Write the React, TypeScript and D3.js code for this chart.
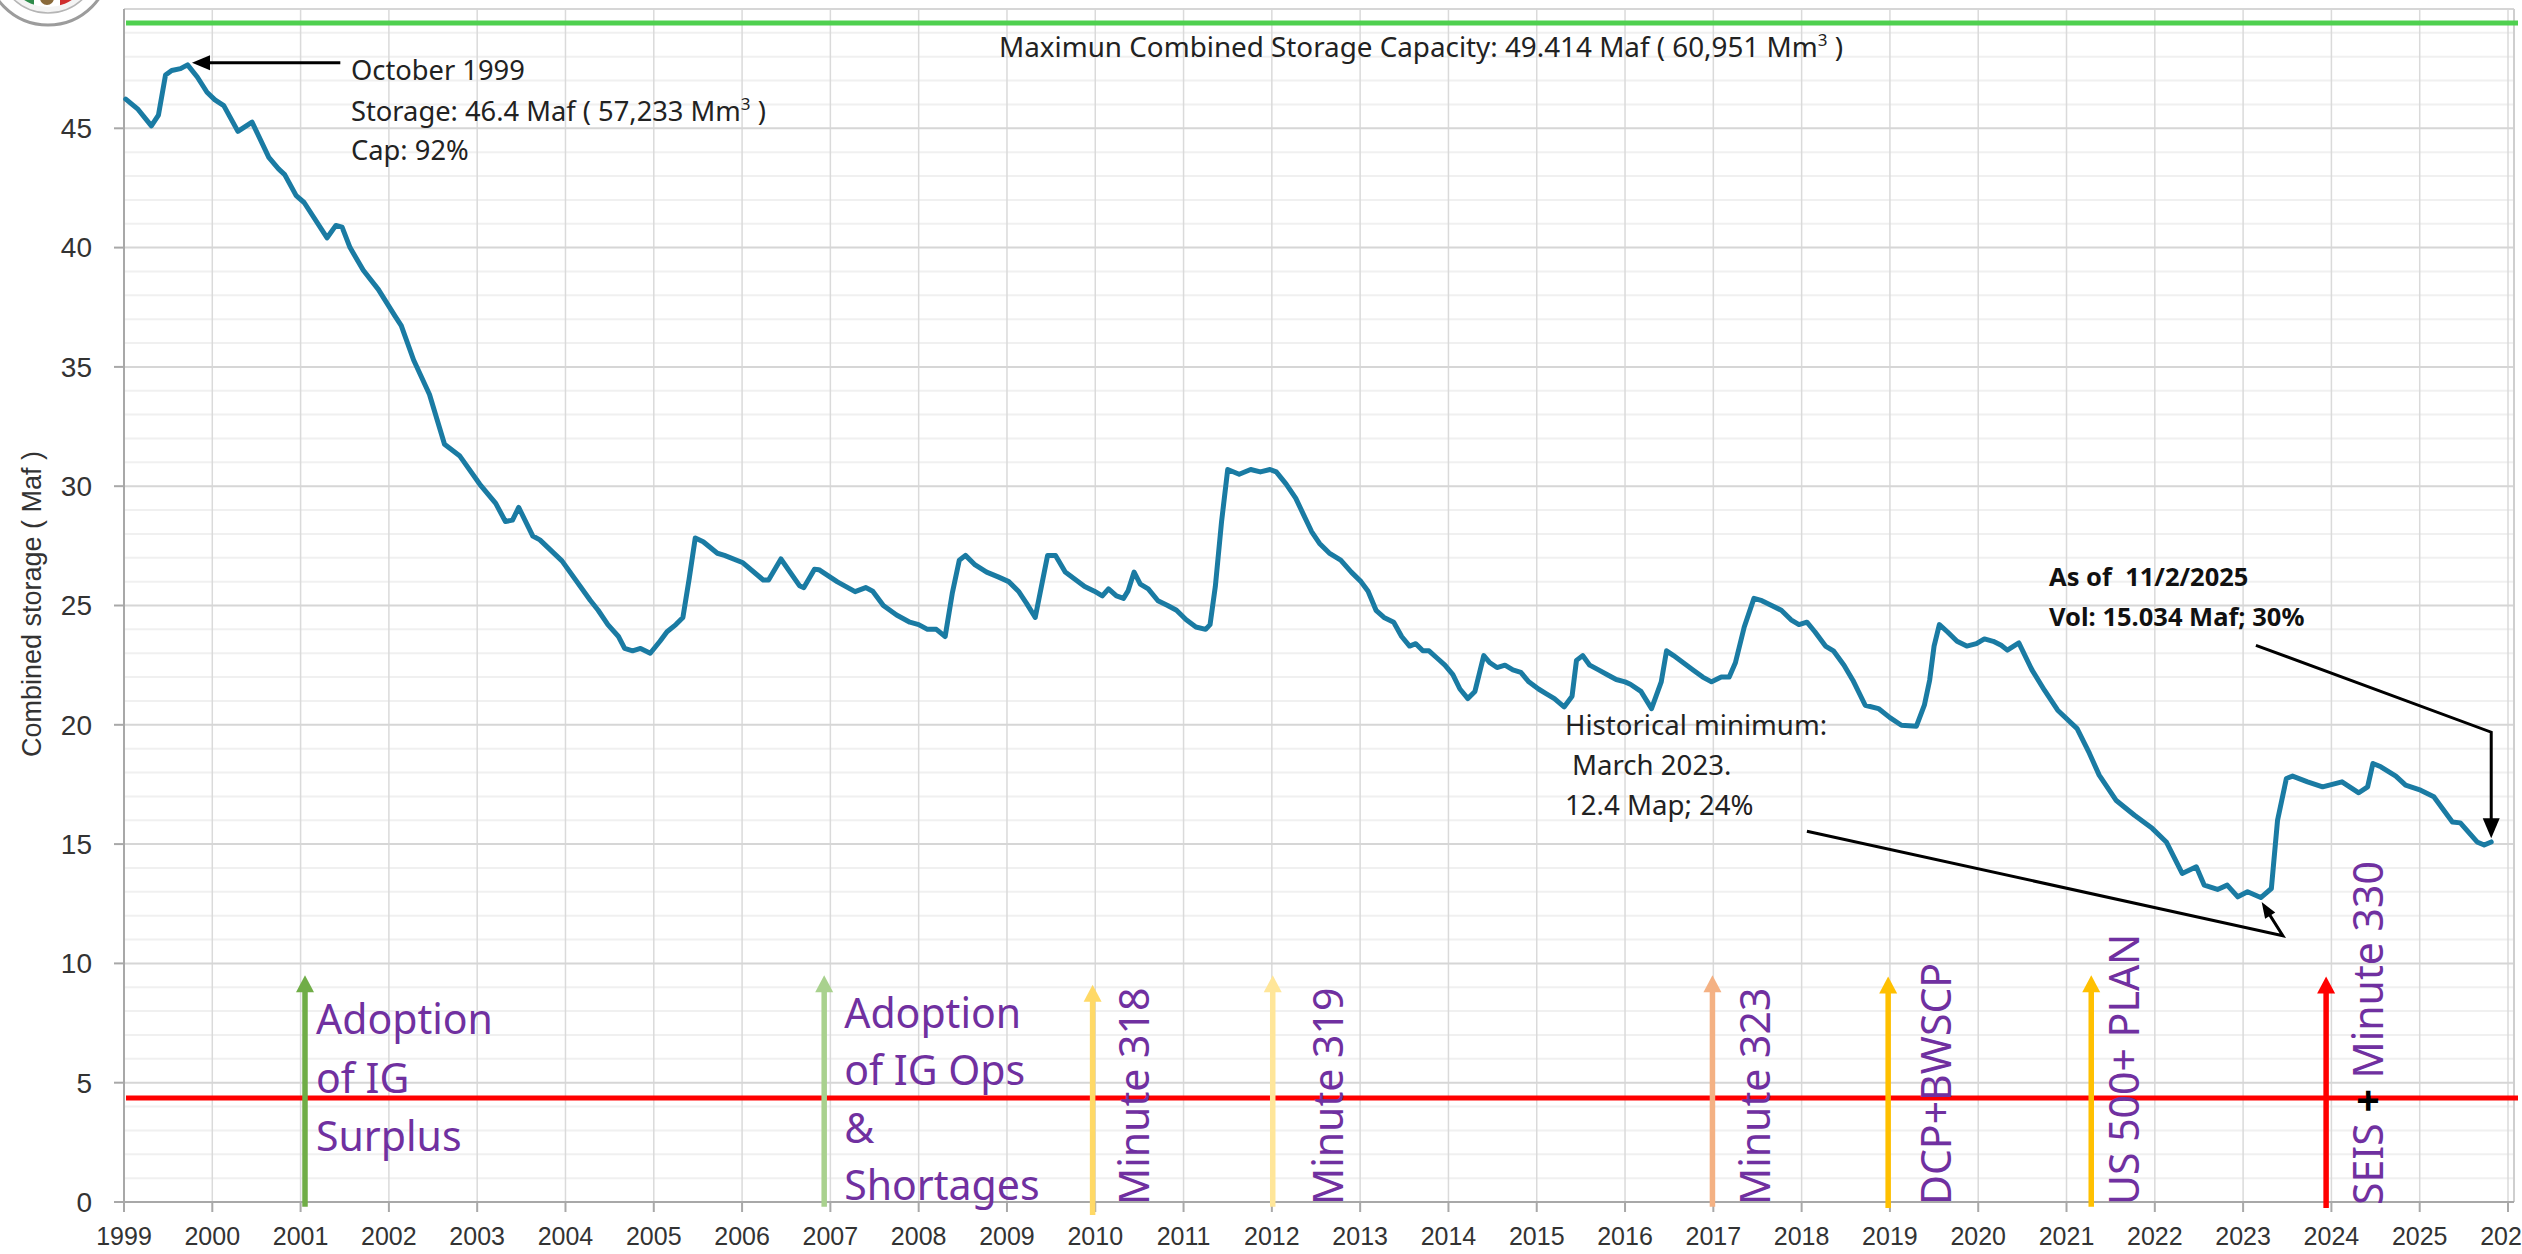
import React, { useEffect } from 'react';
import * as d3 from 'd3';

// ---------- data ----------
const dates: number[] = [
  1999.02, 1999.16, 1999.31, 1999.39, 1999.47, 1999.54, 1999.64, 1999.72, 1999.83, 1999.94,
  2000.03, 2000.13, 2000.29, 2000.45, 2000.64, 2000.75, 2000.82, 2000.95, 2001.04, 2001.30,
  2001.40, 2001.47, 2001.56, 2001.71, 2001.88, 2002.07, 2002.14, 2002.28, 2002.46, 2002.63,
  2002.80, 2003.03, 2003.21, 2003.32, 2003.40, 2003.47, 2003.63, 2003.71, 2003.96, 2004.28,
  2004.37, 2004.48, 2004.60, 2004.67, 2004.76, 2004.85, 2004.96, 2005.07, 2005.15, 2005.25,
  2005.33, 2005.40, 2005.47, 2005.56, 2005.72, 2005.80, 2006.01, 2006.24, 2006.30, 2006.44,
  2006.65, 2006.70, 2006.82, 2006.87, 2007.08, 2007.28, 2007.40, 2007.48, 2007.60, 2007.75,
  2007.90, 2008.00, 2008.10, 2008.20, 2008.30, 2008.38, 2008.46, 2008.53, 2008.64, 2008.77,
  2008.90, 2009.02, 2009.13, 2009.22, 2009.32, 2009.39, 2009.46, 2009.55, 2009.66, 2009.77,
  2009.88, 2009.99, 2010.08, 2010.15, 2010.24, 2010.32, 2010.37, 2010.44, 2010.51, 2010.60,
  2010.71, 2010.82, 2010.92, 2011.03, 2011.14, 2011.25, 2011.30, 2011.36, 2011.43, 2011.50,
  2011.63, 2011.76, 2011.87, 2011.98, 2012.05, 2012.16, 2012.27, 2012.36, 2012.45, 2012.54,
  2012.65, 2012.78, 2012.90, 2013.01, 2013.09, 2013.18, 2013.27, 2013.38, 2013.47, 2013.56,
  2013.63, 2013.71, 2013.78, 2013.87, 2013.96, 2014.05, 2014.13, 2014.22, 2014.30, 2014.40,
  2014.47, 2014.55, 2014.64, 2014.73, 2014.82, 2014.91, 2015.02, 2015.11, 2015.20, 2015.31,
  2015.40, 2015.45, 2015.52, 2015.60, 2015.70, 2015.80, 2015.90, 2016.00, 2016.06, 2016.18,
  2016.30, 2016.41, 2016.47, 2016.55, 2016.66, 2016.77, 2016.88, 2016.98, 2017.09, 2017.18,
  2017.25, 2017.35, 2017.46, 2017.55, 2017.66, 2017.77, 2017.88, 2017.97, 2018.06, 2018.15,
  2018.27, 2018.36, 2018.48, 2018.58, 2018.72, 2018.87, 2019.00, 2019.13, 2019.30, 2019.39,
  2019.45, 2019.50, 2019.56, 2019.65, 2019.76, 2019.87, 2019.98, 2020.07, 2020.17, 2020.26,
  2020.33, 2020.46, 2020.61, 2020.75, 2020.90, 2021.12, 2021.26, 2021.37, 2021.56, 2021.77,
  2021.97, 2022.13, 2022.31, 2022.47, 2022.56, 2022.71, 2022.82, 2022.94, 2023.05, 2023.20,
  2023.32, 2023.39, 2023.49, 2023.56, 2023.73, 2023.90, 2024.12, 2024.31, 2024.41, 2024.47,
  2024.56, 2024.73, 2024.84, 2025.01, 2025.16, 2025.37, 2025.46, 2025.65, 2025.73, 2025.81,
];

const storage: number[] = [
  46.22, 45.79, 45.10, 45.55, 47.23, 47.42, 47.50, 47.66, 47.15, 46.51,
  46.19, 45.95, 44.87, 45.26, 43.78, 43.30, 43.06, 42.18, 41.89, 40.41,
  40.93, 40.86, 40.00, 39.05, 38.25, 37.13, 36.73, 35.29, 33.84, 31.76,
  31.28, 30.08, 29.28, 28.52, 28.58, 29.11, 27.91, 27.75, 26.87, 25.22,
  24.80, 24.20, 23.70, 23.20, 23.10, 23.20, 23.00, 23.50, 23.90, 24.20,
  24.50, 26.10, 27.83, 27.67, 27.19, 27.10, 26.79, 26.07, 26.07, 26.95,
  25.83, 25.75, 26.52, 26.50, 25.99, 25.58, 25.75, 25.60, 25.00, 24.60,
  24.30, 24.20, 24.00, 24.00, 23.70, 25.50, 26.90, 27.10, 26.70, 26.40,
  26.20, 26.00, 25.60, 25.10, 24.50, 25.80, 27.10, 27.10, 26.40, 26.10,
  25.80, 25.60, 25.40, 25.70, 25.40, 25.30, 25.60, 26.40, 25.90, 25.70,
  25.20, 25.00, 24.80, 24.40, 24.10, 24.00, 24.20, 25.80, 28.50, 30.70,
  30.50, 30.70, 30.60, 30.70, 30.60, 30.10, 29.50, 28.80, 28.10, 27.60,
  27.20, 26.90, 26.40, 26.00, 25.60, 24.80, 24.50, 24.30, 23.70, 23.30,
  23.40, 23.10, 23.10, 22.80, 22.50, 22.10, 21.50, 21.10, 21.40, 22.90,
  22.60, 22.40, 22.50, 22.30, 22.20, 21.80, 21.50, 21.30, 21.10, 20.75,
  21.20, 22.70, 22.90, 22.50, 22.30, 22.10, 21.90, 21.80, 21.70, 21.40,
  20.68, 21.80, 23.10, 22.90, 22.60, 22.30, 22.00, 21.80, 22.00, 22.00,
  22.60, 24.10, 25.30, 25.20, 25.00, 24.80, 24.40, 24.20, 24.30, 23.90,
  23.30, 23.10, 22.50, 21.87, 20.82, 20.68, 20.30, 19.98, 19.94, 20.82,
  21.87, 23.30, 24.20, 23.90, 23.50, 23.30, 23.40, 23.60, 23.50, 23.33,
  23.13, 23.43, 22.29, 21.45, 20.61, 19.84, 18.80, 17.89, 16.84, 16.21,
  15.66, 15.09, 13.77, 14.05, 13.28, 13.10, 13.28, 12.79, 13.00, 12.76,
  13.14, 16.00, 17.75, 17.85, 17.61, 17.40, 17.61, 17.15, 17.40, 18.38,
  18.24, 17.85, 17.47, 17.26, 16.98, 15.93, 15.89, 15.09, 14.96, 15.09,
];

const xTickYears: number[] = [
  1999, 2000, 2001, 2002, 2003, 2004, 2005, 2006, 2007, 2008, 2009, 2010, 2011, 2012,
  2013, 2014, 2015, 2016, 2017, 2018, 2019, 2020, 2021, 2022, 2023, 2024, 2025, 2026,
];
const yTickValues: number[] = [0, 5, 10, 15, 20, 25, 30, 35, 40, 45];

const maxCapacity = 49.414;
const lowLevel = 4.36;

const eventYears: number[] = [2001.05, 2006.93, 2009.97, 2012.01, 2016.99, 2018.98, 2021.28, 2023.94];
const eventTops: number[] = [9.5, 9.5, 9.1, 9.5, 9.5, 9.45, 9.5, 9.45];
const eventBases: number[] = [-0.2, -0.2, -0.55, -0.2, -0.2, -0.25, -0.2, -0.25];
const eventLabels: string[][] = [
  ['Adoption', 'of IG', 'Surplus'],
  ['Adoption', 'of IG Ops', '&', 'Shortages'],
  ['Minute 318'],
  ['Minute 319'],
  ['Minute 323'],
  ['DCP+BWSCP'],
  ['US 500+ PLAN'],
  ['SEIS + Minute 330'],
];

// ---------- layout / style ----------
const W = 2522;
const H = 1254;
const PLOT = { left: 124, right: 2508, top: 9, bottom: 1202, frameRight: 2514 };
const eventColors = ['#70AD47', '#A9D18E', '#FFD966', '#FFE699', '#F4B183', '#FFC000', '#FFC000', '#FF0000'];
const eventLabelDx = [11, 37, 56, 70, 58, 63, 48, 57];
const PURPLE = '#7030A0';
const AXIS_FONT = "'Liberation Sans', Arial, sans-serif";
const NOTE_FONT = "'Noto Sans', 'Open Sans', sans-serif";

export default function App() {
  useEffect(() => {
    document.body.style.margin = '0';
    document.body.style.overflow = 'hidden';
  }, []);

  const x = d3.scaleLinear().domain([1999, 2026]).range([PLOT.left, PLOT.right]);
  const y = d3.scaleLinear().domain([0, 50]).range([PLOT.bottom, PLOT.top]);

  const pts: [number, number][] = dates.map((d, i) => [d, storage[i]]);
  const line = d3
    .line<[number, number]>()
    .x((d) => x(d[0]))
    .y((d) => y(d[1]));

  const minorTicks = d3.range(1, 50).filter((v) => v % 5 !== 0);

  const arrowHead = (tx: number, ty: number, dir: 'up' | 'down' | 'left', w: number, h: number) => {
    if (dir === 'up') return `${tx},${ty} ${tx - w / 2},${ty + h} ${tx + w / 2},${ty + h}`;
    if (dir === 'down') return `${tx},${ty} ${tx - w / 2},${ty - h} ${tx + w / 2},${ty - h}`;
    return `${tx},${ty} ${tx + h},${ty - w / 2} ${tx + h},${ty + w / 2}`;
  };

  // annotation anchor points (data coordinates)
  const octTip: [number, number] = [x(1999.77), y(47.75)];
  const octTail: [number, number] = [x(2001.45), y(47.75)];
  const histTail: [number, number] = [x(2018.06), y(15.54)];
  const histBend: [number, number] = [x(2023.45), y(11.16)];
  const histTip: [number, number] = [x(2023.21), y(12.57)];
  const curTail: [number, number] = [x(2023.145), y(23.33)];
  const curBend: [number, number] = [x(2025.81), y(19.69)];
  const curTip: [number, number] = [x(2025.81), y(15.25)];

  const histAngle = Math.atan2(histTip[1] - histBend[1], histTip[0] - histBend[0]);

  return (
    <svg
      width={W}
      height={H}
      viewBox={`0 0 ${W} ${H}`}
      style={{ position: 'fixed', left: 0, top: 0, background: '#ffffff' }}
    >
      <rect x={0} y={0} width={W} height={H} fill="#ffffff" />

      {/* logo (partial seal) */}
      <g>
        <defs>
          <clipPath id="sealInner">
            <circle cx={48} cy={-37} r={44} />
          </clipPath>
        </defs>
        <circle cx={48} cy={-37} r={62} fill="#ffffff" stroke="#9c9c9c" strokeWidth={3} />
        <circle cx={48} cy={-37} r={50} fill="#f4f4f4" stroke="#b5b5b5" strokeWidth={1.5} />
        <g clipPath="url(#sealInner)">
          <rect x={0} y={-90} width={34} height={100} fill="#2e8b4a" />
          <rect x={34} y={-90} width={26} height={100} fill="#ffffff" />
          <rect x={60} y={-90} width={40} height={100} fill="#cf2e2e" />
          <circle cx={47} cy={-2} r={7} fill="#8a6a3a" />
        </g>
      </g>

      {/* minor gridlines */}
      {minorTicks.map((v) => (
        <line key={`mn${v}`} x1={PLOT.left} x2={PLOT.frameRight} y1={y(v)} y2={y(v)} stroke="#f0f0f0" strokeWidth={2} />
      ))}
      {/* vertical gridlines */}
      {xTickYears.map((yr) => (
        <line key={`vg${yr}`} x1={x(yr)} x2={x(yr)} y1={PLOT.top} y2={PLOT.bottom} stroke="#dadada" strokeWidth={1.5} />
      ))}
      {/* major gridlines */}
      {yTickValues.concat([50]).map((v) => (
        <line key={`mj${v}`} x1={PLOT.left} x2={PLOT.frameRight} y1={y(v)} y2={y(v)} stroke="#d6d6d6" strokeWidth={2} />
      ))}
      {/* frame */}
      <line x1={PLOT.frameRight} x2={PLOT.frameRight} y1={PLOT.top} y2={PLOT.bottom} stroke="#cfcfcf" strokeWidth={2} />

      {/* axes */}
      <line x1={PLOT.left} x2={PLOT.left} y1={PLOT.top} y2={PLOT.bottom} stroke="#a8a8a8" strokeWidth={2} />
      <line x1={PLOT.left - 10} x2={PLOT.frameRight} y1={PLOT.bottom} y2={PLOT.bottom} stroke="#a8a8a8" strokeWidth={2} />
      {yTickValues.map((v) => (
        <g key={`yt${v}`}>
          <line x1={PLOT.left - 10} x2={PLOT.left} y1={y(v)} y2={y(v)} stroke="#a8a8a8" strokeWidth={2} />
          <text x={92} y={y(v)} dy="0.35em" textAnchor="end" fontFamily={AXIS_FONT} fontSize={28} fill="#333">
            {v}
          </text>
        </g>
      ))}
      {xTickYears.map((yr) => (
        <g key={`xt${yr}`}>
          <line x1={x(yr)} x2={x(yr)} y1={PLOT.bottom} y2={PLOT.bottom + 10} stroke="#a8a8a8" strokeWidth={2} />
          <text x={x(yr)} y={1245} textAnchor="middle" fontFamily={AXIS_FONT} fontSize={25} fill="#333">
            {yr}
          </text>
        </g>
      ))}
      <text
        transform={`translate(41, 604) rotate(-90)`}
        textAnchor="middle"
        fontFamily={AXIS_FONT}
        fontSize={27}
        fill="#333"
      >
        Combined storage ( Maf )
      </text>

      {/* reference lines */}
      <line x1={PLOT.left + 2} x2={PLOT.frameRight + 4} y1={y(maxCapacity)} y2={y(maxCapacity)} stroke="#4fd04f" strokeWidth={5} />
      <line x1={PLOT.left + 2} x2={PLOT.frameRight + 4} y1={y(lowLevel)} y2={y(lowLevel)} stroke="#ff0000" strokeWidth={5} />

      {/* event arrows */}
      {eventYears.map((yr, i) => {
        const ax = x(yr);
        const top = y(eventTops[i]);
        const base = y(eventBases[i]);
        return (
          <g key={`ev${i}`}>
            <line x1={ax} x2={ax} y1={base} y2={top + 14} stroke={eventColors[i]} strokeWidth={5.5} />
            <polygon points={arrowHead(ax, top, 'up', 18, 17)} fill={eventColors[i]} />
          </g>
        );
      })}

      {/* horizontal event labels */}
      <text fontFamily={NOTE_FONT} fontSize={41} fill={PURPLE}>
        {eventLabels[0].map((t, j) => (
          <tspan key={j} x={x(eventYears[0]) + eventLabelDx[0]} y={1034 + j * 58.5}>
            {t}
          </tspan>
        ))}
      </text>
      <text fontFamily={NOTE_FONT} fontSize={41} fill={PURPLE}>
        {eventLabels[1].map((t, j) => (
          <tspan key={j} x={x(eventYears[1]) + eventLabelDx[1] - 17} y={1028 + j * 57.3}>
            {t}
          </tspan>
        ))}
      </text>
      {/* rotated event labels */}
      {eventYears.slice(2).map((yr, k) => {
        const i = k + 2;
        const bx = x(yr) + eventLabelDx[i];
        const label = eventLabels[i][0];
        const parts = label.split(' + ');
        return (
          <text
            key={`lbl${i}`}
            transform={`translate(${bx}, 1205) rotate(-90)`}
            fontFamily={NOTE_FONT}
            fontSize={41}
            fill={PURPLE}
          >
            {parts.length === 2 ? (
              <>
                <tspan>{parts[0]} </tspan>
                <tspan fill="#000" fontWeight="bold">+</tspan>
                <tspan> {parts[1]}</tspan>
              </>
            ) : (
              label
            )}
          </text>
        );
      })}

      {/* storage line */}
      <path d={line(pts) || ''} fill="none" stroke="#1a7ba3" strokeWidth={5} strokeLinejoin="round" strokeLinecap="round" />

      {/* annotations */}
      <text x={999} y={57} fontFamily={NOTE_FONT} fontSize={27.8} fill="#222">
        Maximun Combined Storage Capacity: 49.414 Maf ( 60,951 Mm
        <tspan dy={-11} fontSize={17}>3</tspan>
        <tspan dy={11}> )</tspan>
      </text>

      <line x1={octTail[0]} y1={octTail[1]} x2={octTip[0] + 16} y2={octTip[1]} stroke="#000" strokeWidth={3} />
      <polygon points={arrowHead(octTip[0], octTip[1], 'left', 15, 18)} fill="#000" />
      <text fontFamily={NOTE_FONT} fontSize={27.3} fill="#222">
        <tspan x={351} y={80}>October 1999</tspan>
        <tspan x={351} y={121}>
          Storage: 46.4 Maf ( 57,233 Mm
          <tspan dy={-11} fontSize={17}>3</tspan>
          <tspan dy={11}> )</tspan>
        </tspan>
        <tspan x={351} y={160}>Cap: 92%</tspan>
      </text>

      <text fontFamily={NOTE_FONT} fontSize={27.6} fill="#222">
        <tspan x={1565} y={735}>Historical minimum:</tspan>
        <tspan x={1572} y={775}>March 2023.</tspan>
        <tspan x={1565} y={815}>12.4 Map; 24%</tspan>
      </text>
      <polyline
        points={`${histTail[0]},${histTail[1]} ${histBend[0]},${histBend[1]} ${histTip[0] - 8 * Math.cos(histAngle)},${histTip[1] - 8 * Math.sin(histAngle)}`}
        fill="none"
        stroke="#000"
        strokeWidth={3}
      />
      <polygon
        points={`${histTip[0]},${histTip[1]} ${histTip[0] - 16 * Math.cos(histAngle) + 6 * Math.sin(histAngle)},${histTip[1] - 16 * Math.sin(histAngle) - 6 * Math.cos(histAngle)} ${histTip[0] - 16 * Math.cos(histAngle) - 6 * Math.sin(histAngle)},${histTip[1] - 16 * Math.sin(histAngle) + 6 * Math.cos(histAngle)}`}
        fill="#000"
      />

      <text fontFamily={NOTE_FONT} fontSize={25.5} fontWeight="bold" fill="#111">
        <tspan x={2049} y={586}>As of {'\u00a0'}11/2/2025</tspan>
        <tspan x={2049} y={626}>Vol: 15.034 Maf; 30%</tspan>
      </text>
      <polyline
        points={`${curTail[0]},${curTail[1]} ${curBend[0]},${curBend[1]} ${curTip[0]},${curTip[1] - 18}`}
        fill="none"
        stroke="#000"
        strokeWidth={3}
      />
      <polygon points={arrowHead(curTip[0], curTip[1], 'down', 17, 20)} fill="#000" />
    </svg>
  );
}
